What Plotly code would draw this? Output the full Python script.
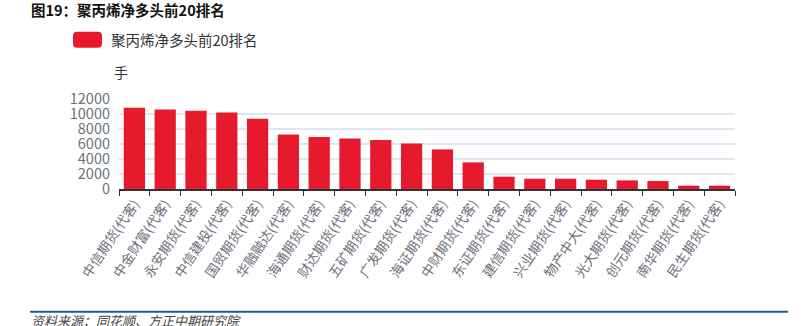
import plotly.graph_objects as go

categories = ["中信期货(代客)", "中金财富(代客)", "永安期货(代客)", "中信建投(代客)", "国贸期货(代客)",
              "华融融达(代客)", "海通期货(代客)", "财达期货(代客)", "五矿期货(代客)", "广发期货(代客)",
              "海证期货(代客)", "中财期货(代客)", "东证期货(代客)", "建信期货(代客)", "兴业期货(代客)",
              "物产中大(代客)", "光大期货(代客)", "创元期货(代客)", "南华期货(代客)", "民生期货(代客)"]
values = [10840, 10610, 10440, 10210, 9370, 7280, 6930, 6750, 6530, 6080,
          5280, 3550, 1640, 1370, 1370, 1240, 1150, 1060, 440, 440]
y_ticks = [0, 2000, 4000, 6000, 8000, 10000, 12000]
series_name = "聚丙烯净多头前20排名"
title_text = "图19：聚丙烯净多头前20排名"
source_text = "资料来源：同花顺、方正中期研究院"
unit_text = "手"

W, H = 802, 326
L, R, T, B = 119, 735, 99.3, 189.3
FONT = "Noto Sans CJK SC, Noto Sans, sans-serif"
RED = "#e61a2c"
GRAY = "#6e7079"

def px(x):
    return (x - L) / (R - L)

def py(y):
    return (B - y) / (B - T)

fig = go.Figure()
fig.add_trace(go.Bar(x=categories, y=values, marker=dict(color=RED, line=dict(width=0)),
                     name=series_name, showlegend=False))

# legend swatch (rounded)
x0, x1, y0, y1, r = 73, 102, 32, 48, 4
path = (f"M {x0+r},{y0} L {x1-r},{y0} Q {x1},{y0} {x1},{y0+r} L {x1},{y1-r} Q {x1},{y1} {x1-r},{y1} "
        f"L {x0+r},{y1} Q {x0},{y1} {x0},{y1-r} L {x0},{y0+r} Q {x0},{y0} {x0+r},{y0} Z")
# convert path to paper coords
import re
def conv(m):
    a, b = float(m.group(1)), float(m.group(2))
    return f"{px(a):.5f},{py(b):.5f}"
path_p = re.sub(r"([\d.]+),([\d.]+)", conv, path)
fig.add_shape(type="path", path=path_p, xref="paper", yref="paper", fillcolor=RED, line=dict(width=0))

# bottom blue line
fig.add_shape(type="line", xref="paper", yref="paper", x0=px(30), x1=px(788), y0=py(312), y1=py(312),
              line=dict(color="#1b5b8c", width=2))

anns = [
    dict(text=f"<b>{title_text}</b>", x=px(29), y=py(10), xanchor="left", yanchor="middle",
         font=dict(size=14.5, color="#111111", family=FONT)),
    dict(text=series_name, x=px(109), y=py(40), xanchor="left", yanchor="middle",
         font=dict(size=14.5, color="#333333", family=FONT)),
    dict(text=unit_text, x=px(112), y=py(72.5), xanchor="left", yanchor="middle",
         font=dict(size=14, color="#333333", family=FONT)),
    dict(text=f"<i>{source_text}</i>", x=px(29), y=py(321), xanchor="left", yanchor="middle",
         font=dict(size=13, color="#444444", family=FONT)),
]
for a in anns:
    fig.add_annotation(xref="paper", yref="paper", showarrow=False, **a)

fig.update_layout(
    width=W, height=H,
    margin=dict(l=L, r=W - R, t=T, b=H - B),
    plot_bgcolor="white", paper_bgcolor="white",
    bargap=0.31,
    font=dict(family=FONT, color=GRAY),
    xaxis=dict(type="category", tickangle=-56, tickfont=dict(size=13.5, color=GRAY),
               showline=True, linecolor="#333333", linewidth=1.5,
               ticks="outside", ticklen=5, tickcolor="#333333", tickson="boundaries",
               showgrid=False),
    yaxis=dict(range=[0, 12000], tickvals=y_ticks, ticktext=[str(v) for v in y_ticks],
               tickfont=dict(size=14.5, color=GRAY), gridcolor="#e0e6f1", gridwidth=1.5,
               zeroline=False, showline=False, ticks="", ticklabelstandoff=8),
)

fig.write_html("out.html")
